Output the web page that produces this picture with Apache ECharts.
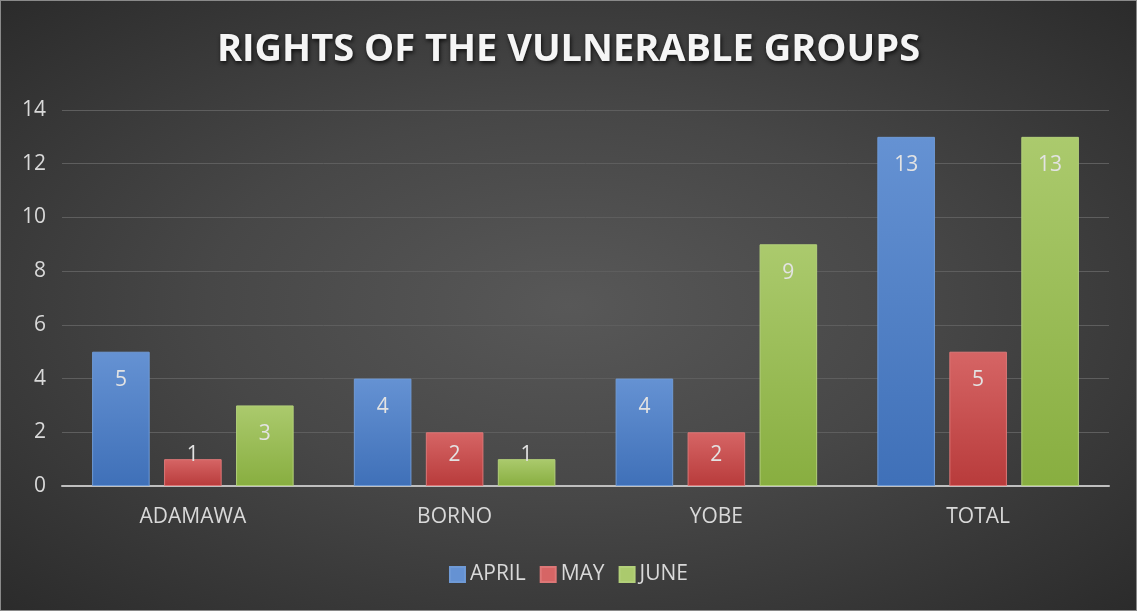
<!DOCTYPE html>
<html><head><meta charset="utf-8">
<script src="https://cdn.jsdelivr.net/npm/echarts@6/dist/echarts.min.js"></script>
<style>
html,body{margin:0;padding:0;background:#2a2a2a;}
#c{width:1137px;height:611px;box-sizing:border-box;border:1px solid #8a8a8a;
background:radial-gradient(ellipse at 50% 50%, #585858 0%, #474747 45%, #2b2b2b 100%);}
</style></head>
<body><div id="c"></div>
<script>
const categories = ["ADAMAWA", "BORNO", "YOBE", "TOTAL"];
const seriesNames = ["APRIL", "MAY", "JUNE"];
const april = [5, 4, 4, 13];
const may = [1, 2, 2, 5];
const june = [3, 1, 9, 13];
const yTicks = {min: 0, max: 14, interval: 2};

const colors = [
  ["#6592d3", "#3f70b8", "#6f9ad6"],
  ["#d66565", "#b83b3b", "#dd7777"],
  ["#abca6d", "#88ae40", "#b3d07a"]
];
const font = "'Open Sans', sans-serif";
function grad(c){
  return new echarts.graphic.LinearGradient(0,0,0,1,[{offset:0,color:c[0]},{offset:1,color:c[1]}]);
}
function mk(name, data, c){
  return {
    name, type:'bar', barGap:'25%', barCategoryGap:'23%',
    itemStyle:{color:grad(c), borderColor:c[2], borderWidth:1},
    data: data.map(v => ({
      value: v,
      label: v >= 3 ? {position:'insideTop', distance:18} : {position:'insideBottom', distance:20}
    })),
    label:{show:true, color:'#e3e3e3', fontSize:21, fontFamily:font}
  };
}
const chart = echarts.init(document.getElementById('c'), null, {renderer:'canvas'});
chart.setOption({
  backgroundColor:'transparent',
  title:{text:'RIGHTS OF THE VULNERABLE GROUPS', left:'center', top:25,
    textStyle:{color:'#f5f5f5', fontSize:38, fontWeight:'bold', fontFamily:font,
      textShadowColor:'rgba(0,0,0,0.8)', textShadowBlur:4, textShadowOffsetX:1, textShadowOffsetY:2}},
  legend:{bottom:20, left:'center', itemWidth:15, itemHeight:15, itemGap:14,
    icon:'rect', textStyle:{color:'#d9d9d9', fontSize:21, fontFamily:font},
    data: seriesNames.map((n,i)=>({name:n, itemStyle:{color:colors[i][0]}}))},
  grid:{left:61, right:27, top:109, bottom:124, containLabel:false},
  xAxis:{type:'category', data:categories,
    axisLine:{lineStyle:{color:'#bfbfbf', width:2}}, axisTick:{show:false},
    axisLabel:{color:'#d9d9d9', fontSize:21, fontFamily:font, margin:21}},
  yAxis:{type:'value', min:yTicks.min, max:yTicks.max, interval:yTicks.interval,
    axisLine:{show:false}, axisTick:{show:false},
    axisLabel:{color:'#d9d9d9', fontSize:21, fontFamily:font, margin:16},
    splitLine:{lineStyle:{color:'#5e5e5e', width:1}}},
  series:[mk(seriesNames[0], april, colors[0]), mk(seriesNames[1], may, colors[1]), mk(seriesNames[2], june, colors[2])]
});
</script></body></html>
